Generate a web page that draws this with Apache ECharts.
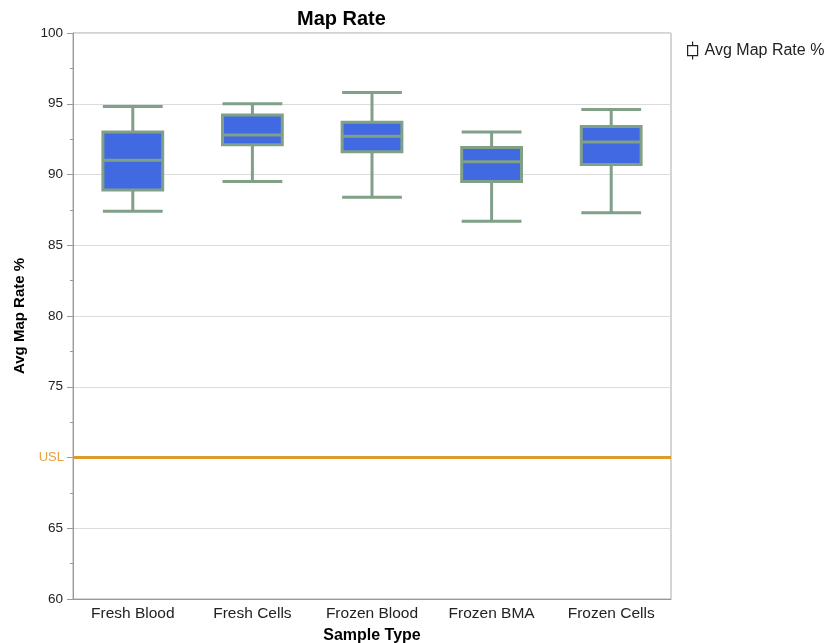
<!DOCTYPE html>
<html>
<head>
<meta charset="utf-8">
<script src="https://cdn.jsdelivr.net/npm/echarts@6/dist/echarts.min.js"></script>
<style>
  html, body { margin: 0; padding: 0; background: #fff; }
  #chart { width: 832px; height: 643px; }
</style>
</head>
<body>
<div id="chart"></div>
<script>
// Sample types on the x axis
const categories = ['Fresh Blood', 'Fresh Cells', 'Frozen Blood', 'Frozen BMA', 'Frozen Cells'];
// Five-number summaries of average map rate (%) per sample type
const whiskerLow  = [87.4, 89.5, 88.4, 86.7, 87.3];
const quartile1   = [88.9, 92.1, 91.6, 89.5, 90.7];
const medians     = [91.0, 92.8, 92.7, 90.9, 92.3];
const quartile3   = [93.0, 94.2, 93.7, 91.9, 93.4];
const whiskerHigh = [94.8, 95.0, 95.8, 93.0, 94.6];
// Upper specification limit
const usl = 70;
// Y axis range and tick step
const yMin = 60, yMax = 100, yStep = 5;

const boxData = categories.map((_, i) => [
  whiskerLow[i], quartile1[i], medians[i], quartile3[i], whiskerHigh[i]
]);

const FONT = '"Liberation Sans", Arial, Helvetica, sans-serif';
const chart = echarts.init(document.getElementById('chart'));

chart.setOption({
  animation: false,
  textStyle: { fontFamily: FONT },
  title: {
    text: 'Map Rate',
    left: 292,
    top: 4,
    textStyle: { fontSize: 20, fontWeight: 'bold', color: '#000', fontFamily: FONT }
  },
  legend: {
    orient: 'vertical',
    left: 682,
    top: 36,
    itemWidth: 14,
    itemHeight: 18,
    itemGap: 8,
    icon: 'path://M6,0 L6,4 M1,4 L11,4 L11,14 L1,14 Z M6,14 L6,18',
    itemStyle: { color: '#fff', borderColor: '#222', borderWidth: 1.2 },
    textStyle: { fontSize: 16, color: '#222', fontFamily: FONT },
    data: ['Avg Map Rate %']
  },
  grid: {
    left: 73, right: 161, top: 33, bottom: 44,
    containLabel: false,
    outerBoundsMode: 'none',
    show: true, borderColor: '#aaa', borderWidth: 1
  },
  xAxis: {
    type: 'category',
    data: categories,
    name: 'Sample Type',
    nameLocation: 'middle',
    nameGap: 29,
    nameTextStyle: { fontSize: 16, fontWeight: 'bold', color: '#000', fontFamily: FONT },
    axisLine: { lineStyle: { color: '#999', width: 1 } },
    axisTick: { show: false },
    axisLabel: { interval: 0, fontSize: 15.5, color: '#222', margin: 7, fontFamily: FONT },
    splitLine: { show: false }
  },
  yAxis: {
    type: 'value',
    min: yMin, max: yMax, interval: yStep,
    name: 'Avg Map Rate %',
    nameLocation: 'middle',
    nameGap: 46,
    nameTextStyle: { fontSize: 15, fontWeight: 'bold', color: '#000', fontFamily: FONT },
    axisLine: { show: true, lineStyle: { color: '#999', width: 1 } },
    axisTick: { show: true, length: 6, lineStyle: { color: '#999' } },
    minorTick: { show: true, splitNumber: 2, length: 3, lineStyle: { color: '#999' } },
    axisLabel: {
      fontSize: 13.5, color: '#222', margin: 10, fontFamily: FONT,
      // the USL label takes the place of its tick value
      formatter: v => (v === usl ? '' : String(v))
    },
    splitLine: { show: true, lineStyle: { color: '#dcdcdc', width: 1 } }
  },
  series: [{
    name: 'Avg Map Rate %',
    type: 'boxplot',
    data: boxData,
    boxWidth: ['50%', '50%'],
    itemStyle: { color: '#4169e1', borderColor: '#80a088', borderWidth: 3 },
    emphasis: { disabled: true },
    markLine: {
      silent: true,
      symbol: 'none',
      data: [{ yAxis: usl }],
      lineStyle: { color: '#dd9b2c', width: 3, type: 'solid' },
      label: {
        show: true,
        position: 'start',
        formatter: 'USL',
        color: '#e0a43c',
        fontSize: 13,
        distance: 9,
        fontFamily: FONT
      }
    }
  }]
});
</script>
</body>
</html>
